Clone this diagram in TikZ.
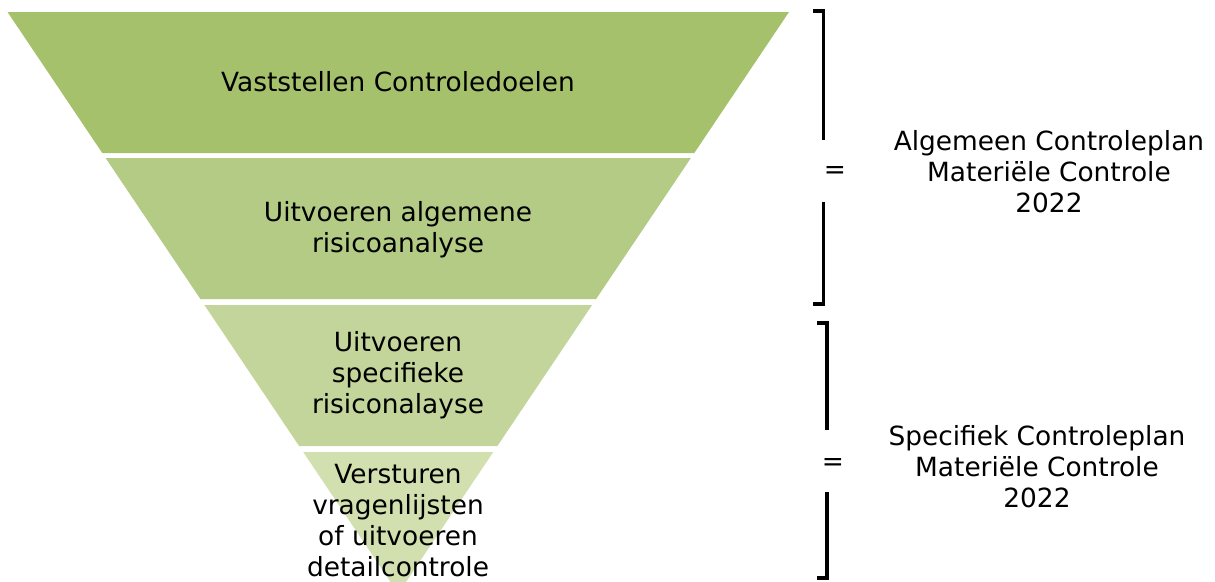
\documentclass[tikz,border=0pt]{standalone}
\usepackage{fontspec}
\usepackage{xcolor}
\usepackage{tikz}
\setmainfont{DejaVu Sans}
\definecolor{funnelone}{RGB}{166,193,108}
\definecolor{funneltwo}{RGB}{179,203,132}
\definecolor{funnelthree}{RGB}{195,213,154}
\definecolor{funnelfour}{RGB}{210,223,175}

\begin{document}
\begin{tikzpicture}[x=0.75pt, y=-0.75pt,
  every node/.style={font=\fontsize{19.8}{23.25}\selectfont, align=center, inner sep=0pt},
  bracket/.style={line width=2.8pt}]
\useasboundingbox (0,0) rectangle (1215,582);
\clip (0,0) rectangle (1215,582);
% funnel bands
\fill[funnelone] (7.5,12) -- (789,12) -- (694.3,153) -- (102.3,153) -- cycle;
\fill[funneltwo] (105.6,158) -- (690.9,158) -- (596.1,299) -- (200.4,299) -- cycle;
\fill[funnelthree] (204.4,305) -- (592.1,305) -- (497.4,446) -- (299.1,446) -- cycle;
\fill[funnelfour] (303.2,452) -- (493.3,452) -- (398.25,593.5) -- cycle;
\node (vaststellen) at (398,82) {Vaststellen Controledoelen};
\node (algemeen) at (398,230) {Uitvoeren algemene\\risicoanalyse};
\node (specifiek) at (398,375) {Uitvoeren\\specifieke\\risiconalayse};
\node (versturen) at (398,521) {Versturen\\vragenlijsten\\of uitvoeren\\detailcontrole};
% brackets
\node (eqone) at (835,173) {=};
\node (eqtwo) at (833,465) {=};
\draw[bracket] (813,11) -- (823.5,11) -- (823.5,140);
\draw[bracket] (823.5,202) -- (823.5,304) -- (813,304);
\draw[bracket] (817,323) -- (827,323) -- (827,430);
\draw[bracket] (827,492) -- (827,578) -- (817,578);
\node (acp) at (1049,172) {Algemeen Controleplan\\Materiële Controle\\2022};
\node (scp) at (1037,467) {Specifiek Controleplan\\Materiële Controle\\2022};
\end{tikzpicture}
\end{document}
